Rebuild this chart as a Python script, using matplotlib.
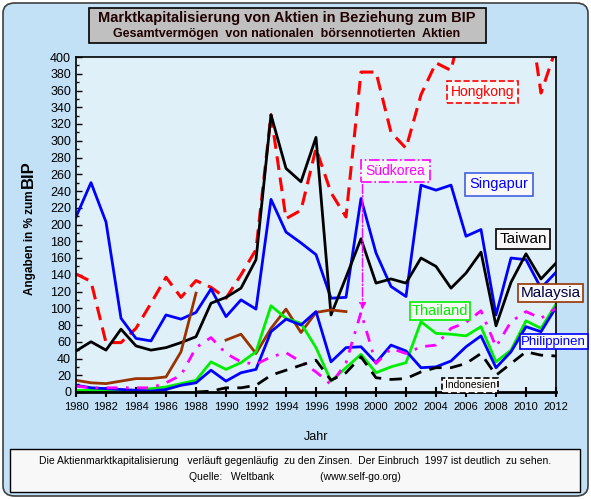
import matplotlib
matplotlib.use("Agg")
import matplotlib.pyplot as plt
from matplotlib.patches import Rectangle, FancyBboxPatch
import numpy as np

plt.rcParams['font.family'] = ['Liberation Sans', 'DejaVu Sans']

years = list(range(1980, 2013))
nan = np.nan

# Werte in % des BIP
hongkong = [141, 132, 59, 59, 76, 106, 137, 113, 133, 125, 112, 140, 170, 331, 207, 217, 291, 238, 209,
            382, 382, 310, 291, 355, 393, 384, 460, 600, 600, 600, 480, 357, 410]
singapur = [209, 250, 203, 88, 64, 61, 92, 87, 95, 123, 90, 110, 99, 230, 191, 178, 164, 112, 113,
            231, 166, 126, 114, 247, 241, 247, 186, 194, 92, 160, 158, 124, 143]
taiwan = [49, 60, 50, 75, 55, 50, 53, 59, 66, 106, 113, 124, 158, 331, 267, 251, 304, 92, 137,
          183, 130, 135, 130, 160, 150, 124, 142, 167, 79, 131, 165, 135, 154]
malaysia = [14, 11, 10, 13, 16, 16, 18, 48, 118, nan, 62, 69, 46, 76, 99, 71, 95, 98, 96,
            nan, nan, nan, nan, nan, nan, nan, nan, nan, nan, nan, nan, nan, nan]
thailand = [2, 2, 2, 2, 2, 4, 6, 10, 14, 36, 27, 35, 48, 103, 88, 82, 53, 13, 29,
            45, 23, 30, 35, 84, 70, 69, 67, 78, 36, 50, 85, 76, 105]
philippinen = [8, 5, 4, 3, 2, 1, 3, 8, 11, 26, 13, 23, 27, 72, 87, 80, 96, 36, 53,
               54, 35, 56, 49, 29, 30, 37, 54, 67, 29, 48, 78, 72, 101]
suedkorea = [7, 5, 5, 5, 5, 5, 11, 20, 53, 65, 46, 36, 33, 42, 47, 36, 24, 9, 35,
             95, 34, 52, 46, 54, 56, 76, 83, 97, 54, 84, 96, 88, 100]
indonesien = [nan, nan, nan, nan, nan, nan, nan, nan, 0, 1, 5, 5, 8, 20, 26, 32, 38, 14, 23,
              42, 17, 15, 16, 24, 29, 29, 34, 46, 20, 34, 48, 44, 43]

W, H = 591, 499
fig = plt.figure(figsize=(W / 100, H / 100), dpi=100)
fig.patch.set_facecolor('white')

def fx(px):
    return px / W

def fy(py):
    return 1 - py / H

# Hintergrund mit abgerundetem Rahmen
bg = FancyBboxPatch((fx(3), fy(496)), fx(585), 493 / H, boxstyle="round,pad=0,rounding_size=0.02",
                    transform=fig.transFigure, facecolor='#c2e0f6', edgecolor='#404040', lw=1.2, zorder=-10)
fig.patches.append(bg)

# Titelbox
fig.patches.append(Rectangle((fx(89), fy(43)), fx(397), 35 / H, transform=fig.transFigure,
                             facecolor='#c0c0c0', edgecolor='black', lw=1.2, zorder=-5))
fig.text(fx(287), fy(18), "Marktkapitalisierung von Aktien in Beziehung zum BIP", ha='center', va='center',
         fontsize=10.5, fontweight='bold', color='#200000')
fig.text(fx(287), fy(34), "Gesamtvermögen  von nationalen  börsennotierten  Aktien", ha='center', va='center',
         fontsize=9, fontweight='bold', color='#200000')

ax = fig.add_axes([fx(76), fy(392), fx(480), 335 / H])
ax.set_facecolor('#dff0f9')

ax.plot(years, hongkong, color='#ff0000', lw=2.2, dashes=(4.5, 2.5))
ax.plot(years, singapur, color='#0000ff', lw=2)
ax.plot(years, taiwan, color='black', lw=2)
ax.plot(years, malaysia, color='#993300', lw=2)
ax.plot(years, thailand, color='#00ee00', lw=2)
ax.plot(years, philippinen, color='#0000ff', lw=2)
ax.plot(years, suedkorea, color='#ff00ff', lw=2, dashes=(4, 3, 1, 3))
ax.plot(years, indonesien, color='black', lw=2, dashes=(4.5, 3))

ax.set_xlim(1980, 2012)
ax.set_ylim(0, 400)
ax.set_xticks(range(1980, 2013, 2))
ax.set_yticks(range(0, 401, 20))
ax.set_yticks(range(0, 401, 10), minor=True)
ax.tick_params(axis='x', direction='inout', length=7, width=1.5, labelsize=8)
ax.tick_params(axis='y', direction='in', length=4, width=1, labelsize=9)
ax.tick_params(axis='y', which='minor', direction='in', length=2, width=1)
for s in ax.spines.values():
    s.set_linewidth(1.2)
ax.spines['bottom'].set_linewidth(2)

# Achsenbeschriftungen
fig.text(fx(316), fy(437), "Jahr", ha='center', va='center', fontsize=9)
fig.text(fx(30), fy(243), "Angaben in % zum", rotation=90, ha='center', va='center',
         fontsize=8.5, fontweight='bold')
fig.text(fx(28), fy(174), "BIP", rotation=90, ha='center', va='center',
         fontsize=12, fontweight='bold')

# Beschriftungen der Reihen
def label(x, y, txt, tc, ec, ls='-', fs=10, pad=0.3):
    ax.text(x, y, txt, color=tc, fontsize=fs, ha='center', va='center', zorder=5,
            bbox=dict(boxstyle='square,pad=%s' % pad, facecolor='#f8f8f8', edgecolor=ec, linestyle=ls, lw=1.2))

label(2007.1, 358, "Hongkong", '#ff0000', '#ff0000', ls='--')
label(2001.3, 264, "Südkorea", '#ff00ff', '#ff00ff', ls='-.')
label(2008.2, 248, "Singapur", '#0000ff', '#4060e0', fs=10.5)
label(2009.8, 183, "Taiwan", 'black', 'black', fs=11, pad=0.2)
label(2011.65, 118, "Malaysia", '#000040', '#993300', fs=11, pad=0.15)
label(2004.27, 97, "Thailand", '#00ee00', '#00ee00', fs=10.5, pad=0.15)
label(2011.85, 60, "Philippinen", '#0000ff', '#0000ff', fs=9.5, pad=0.1)
label(2006.27, 8, "Indonesien", 'black', 'black', ls='--', fs=7.5, pad=0.25)

ax.annotate("", xy=(1999.1, suedkorea[19]), xytext=(1999.1, 251),
            arrowprops=dict(arrowstyle='-|>', color='#ff00ff', lw=1, linestyle='-.'))

# Fussnote
fig.patches.append(Rectangle((fx(10), fy(492)), fx(570), 43 / H, transform=fig.transFigure,
                             facecolor='#f8f8f8', edgecolor='black', lw=1, zorder=-5))
fig.text(fx(295), fy(461), "Die Aktienmarktkapitalisierung   verläuft gegenläufig  zu den Zinsen.  Der Einbruch  1997 ist deutlich  zu sehen.",
         ha='center', va='center', fontsize=7.5)
fig.text(fx(295), fy(477), "Quelle:   Weltbank                (www.self-go.org)", ha='center', va='center', fontsize=7.5)

fig.savefig("out.png", dpi=100)
